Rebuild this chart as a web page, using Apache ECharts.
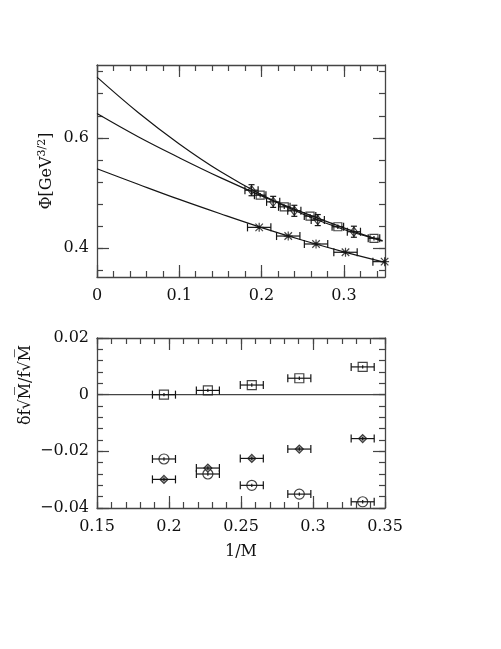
<!DOCTYPE html>
<html>
<head>
<meta charset="utf-8">
<script src="https://cdn.jsdelivr.net/npm/echarts@6/dist/echarts.min.js"></script>
<style>
  html, body { margin: 0; padding: 0; background: #fff; }
  #chart { width: 501px; height: 649px; }
</style>
</head>
<body>
<div id="chart"></div>
<script>
// ---- top panel: fitted curves
var curveX = [0, 0.05, 0.1, 0.15, 0.2, 0.25, 0.3, 0.347];
var curveY1 = [0.710, 0.646, 0.589, 0.539, 0.497, 0.462, 0.434, 0.414];
var curveY2 = [0.644, 0.602, 0.564, 0.528, 0.495, 0.465, 0.437, 0.413];
var curveX3 = [0, 0.05, 0.1, 0.15, 0.2, 0.25, 0.3, 0.35];
var curveY3 = [0.544, 0.516, 0.4885, 0.4625, 0.4375, 0.4145, 0.3935, 0.3745];

// ---- top panel: data points
var diamondX = [0.1878, 0.2141, 0.2398, 0.2683, 0.3122];
var diamondY = [0.5052, 0.4841, 0.4679, 0.4511, 0.4300];
var squareX = [0.1983, 0.2276, 0.2589, 0.2927, 0.3366];
var squareY = [0.4962, 0.4751, 0.4583, 0.4390, 0.4181];
var starX = [0.1971, 0.2324, 0.2662, 0.3020, 0.3495];
var starY = [0.4379, 0.4222, 0.4078, 0.3928, 0.3758];
var diamondErrX = 0.008, diamondErrY = 0.010;
var squareErrX = 0.007, squareErrY = 0.004;
var starErrX = 0.0142, starErrY = 0.003;

// ---- bottom panel: relative deviations
var relX = [0.1965, 0.227, 0.2575, 0.2905, 0.3345];
var relSquare = [0, 0.0015, 0.0034, 0.0058, 0.0098];
var relCircle = [-0.0227, -0.0280, -0.0320, -0.0351, -0.0378];
var relDiamond = [-0.0299, -0.0259, -0.0225, -0.0192, -0.0155];
var relErrX = 0.008, relErrY = 0.0006;
var zeroLineX = [0.15, 0.35];

// ---- tick labels
var topXTicks = [0, 0.1, 0.2, 0.3];
var topYTicks = [0.4, 0.6];
var botXTicks = [0.15, 0.2, 0.25, 0.3, 0.35];
var botYTicks = [-0.04, -0.02, 0, 0.02];

var FONT = 'DejaVu Serif';
var INK = '#151515';
var FRAME = '#444';

function steps(a, b, s) {
  var out = [];
  for (var i = 0; a + i * s <= b + 1e-9; i++) out.push(+(a + i * s).toFixed(4));
  return out;
}
function fmt(v) {
  var n = parseFloat((+v).toFixed(4));
  return (n < 0 ? '\u2212' : '') + Math.abs(n);
}

function frameAxes(dim, grid, min, max, majors, minors) {
  var sides = dim === 'x' ? ['bottom', 'top'] : ['left', 'right'];
  var line = { show: true, onZero: false, lineStyle: { color: FRAME, width: 1.3 } };
  function axis(side, ticks, len, withLabel, withLine) {
    return {
      type: 'value', gridIndex: grid, position: side, min: min, max: max,
      splitLine: { show: false },
      axisLine: withLine ? line : { show: false, onZero: false },
      axisTick: { show: true, inside: true, length: len, customValues: ticks,
                  lineStyle: { color: FRAME, width: 1.2 } },
      axisLabel: withLabel ? {
        show: true, customValues: majors, formatter: fmt,
        margin: dim === 'x' ? 11 : 8, color: '#111',
        fontFamily: FONT, fontSize: 16
      } : { show: false }
    };
  }
  return [
    axis(sides[0], majors, 12, true, true),
    axis(sides[0], minors, 6, false, false),
    axis(sides[1], majors, 12, false, true),
    axis(sides[1], minors, 6, false, false)
  ];
}

function pairs(xs, ys) {
  return xs.map(function (x, i) { return [x, ys[i]]; });
}
function withErr(xs, ys, ex, ey) {
  return xs.map(function (x, i) { return [x, ys[i], ex, ey]; });
}

function errorBars(params, api) {
  var x = api.value(0), y = api.value(1), dx = api.value(2), dy = api.value(3);
  var cap = 4, kids = [];
  var st = { stroke: INK, lineWidth: 1.2 };
  function seg(p, q) {
    kids.push({ type: 'line', shape: { x1: p[0], y1: p[1], x2: q[0], y2: q[1] }, style: st });
  }
  if (dx > 0) {
    var a = api.coord([x - dx, y]), b = api.coord([x + dx, y]);
    seg(a, b);
    seg([a[0], a[1] - cap], [a[0], a[1] + cap]);
    seg([b[0], b[1] - cap], [b[0], b[1] + cap]);
  }
  if (dy > 0) {
    var c = api.coord([x, y - dy]), d = api.coord([x, y + dy]);
    seg(c, d);
    if (Math.abs(c[1] - d[1]) > 6) {
      seg([c[0] - 3, c[1]], [c[0] + 3, c[1]]);
      seg([d[0] - 3, d[1]], [d[0] + 3, d[1]]);
    }
  }
  return { type: 'group', children: kids };
}

function curve(xs, ys) {
  return {
    type: 'line', xAxisIndex: 0, yAxisIndex: 0, data: pairs(xs, ys),
    smooth: 0.4, symbol: 'none', lineStyle: { color: INK, width: 1.2 }, z: 2
  };
}
function marks(xi, xs, ys, symbol, size, fill) {
  return {
    type: 'scatter', xAxisIndex: xi, yAxisIndex: xi, data: pairs(xs, ys),
    symbol: symbol, symbolSize: size,
    itemStyle: { color: fill || 'rgba(0,0,0,0)', borderColor: INK, borderWidth: 1.2 }, z: 3
  };
}
function bars(xi, xs, ys, ex, ey) {
  return {
    type: 'custom', xAxisIndex: xi, yAxisIndex: xi, clip: true,
    data: withErr(xs, ys, ex, ey), renderItem: errorBars, z: 4
  };
}

var STAR = 'path://M0,0L10,10M10,0L0,10M5,-1L5,11M-1,5L11,5';

var chart = echarts.init(document.getElementById('chart'));
chart.setOption({
  backgroundColor: '#fff',
  animation: false,
  grid: [
    { left: 97, top: 65, width: 288, height: 212 },
    { left: 97, top: 338, width: 288, height: 170 }
  ],
  xAxis: frameAxes('x', 0, 0, 0.35, topXTicks, steps(0, 0.34, 0.02))
    .concat(frameAxes('x', 1, 0.15, 0.35, botXTicks, steps(0.15, 0.35, 0.01)))
    .map(function (a, i) {
      if (i === 4) {
        a.name = '1/M';
        a.nameLocation = 'middle';
        a.nameGap = 36;
        a.nameTextStyle = { fontFamily: FONT, fontSize: 16, color: '#111' };
      }
      return a;
    }),
  yAxis: frameAxes('y', 0, 0.348, 0.732, topYTicks, steps(0.36, 0.72, 0.04))
    .concat(frameAxes('y', 1, -0.04, 0.02, botYTicks, steps(-0.04, 0.02, 0.004))),
  graphic: [
    {
      type: 'text', x: 47, y: 171, rotation: Math.PI / 2,
      style: {
        text: '{a|\u03A6[GeV}{s|3/2}{a|]}',
        align: 'center', verticalAlign: 'middle',
        fill: '#111', fontFamily: FONT,
        rich: {
          a: { fontFamily: FONT, fontSize: 16, lineHeight: 21, fill: '#111' },
          s: { fontFamily: FONT, fontSize: 11, lineHeight: 12, verticalAlign: 'top', fill: '#111' }
        }
      }
    },
    {
      type: 'text', x: 26, y: 385, rotation: Math.PI / 2,
      style: {
        text: '\u03B4f\u221AM\u0305/f\u221AM\u0305',
        align: 'center', verticalAlign: 'middle',
        fill: '#111', fontFamily: FONT, fontSize: 16
      }
    }
  ],
  series: [
    curve(curveX, curveY1),
    curve(curveX, curveY2),
    curve(curveX3, curveY3),
    marks(0, diamondX, diamondY, 'diamond', [7, 9]),
    marks(0, squareX, squareY, 'rect', 8),
    marks(0, starX, starY, STAR, 9),
    bars(0, diamondX, diamondY, diamondErrX, diamondErrY),
    bars(0, squareX, squareY, squareErrX, squareErrY),
    bars(0, starX, starY, starErrX, starErrY),
    {
      type: 'line', xAxisIndex: 4, yAxisIndex: 4,
      data: pairs(zeroLineX, [0, 0]), symbol: 'none',
      lineStyle: { color: FRAME, width: 1.3 }, z: 2
    },
    marks(4, relX, relSquare, 'rect', 9),
    marks(4, relX, relCircle, 'circle', 10),
    marks(4, relX, relDiamond, 'diamond', [8, 8], '#888'),
    bars(4, relX, relSquare, relErrX, relErrY),
    bars(4, relX, relCircle, relErrX, relErrY),
    bars(4, relX, relDiamond, relErrX, relErrY)
  ]
});
</script>
</body>
</html>
